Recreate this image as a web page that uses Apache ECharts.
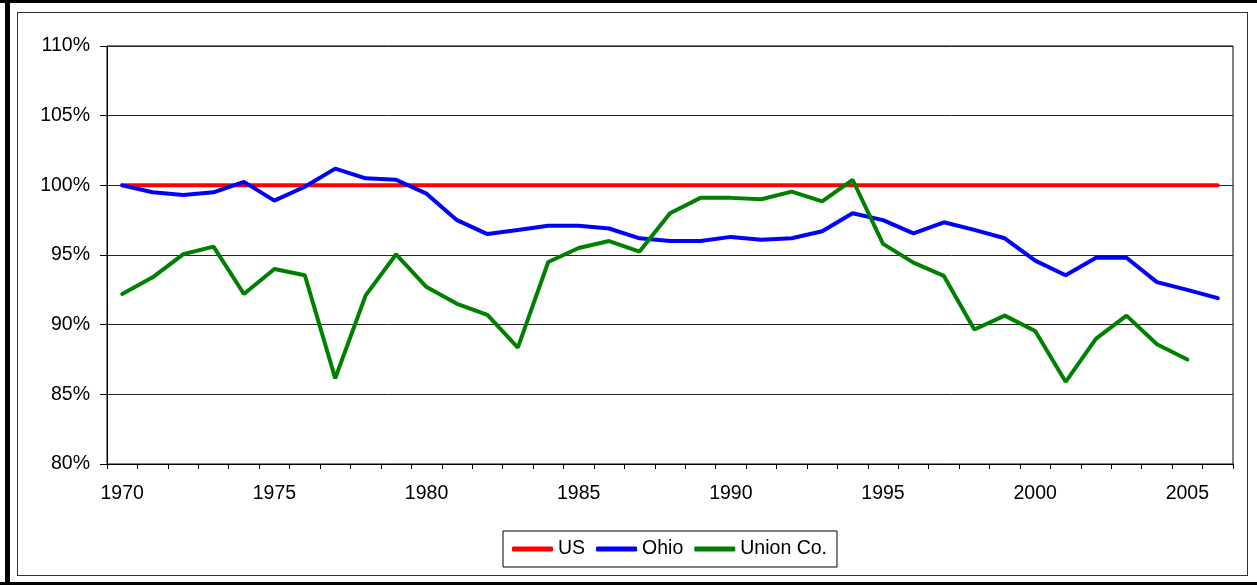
<!DOCTYPE html>
<html>
<head>
<meta charset="utf-8">
<script src="https://cdn.jsdelivr.net/npm/echarts@6/dist/echarts.min.js"></script>
<style>
  body { margin: 0; background: #fff; }
  #page { position: relative; width: 1257px; height: 585px; overflow: hidden; }
  .bar { position: absolute; background: #000; }
  #inner { position: absolute; left: 17px; top: 12px; width: 1229px; height: 562px; border: 1px solid #333; }
  #cv { position: absolute; left: 0; top: 0; width: 1257px; height: 585px; }
</style>
</head>
<body>
<div id="page">
  <div class="bar" style="left:0;top:0;width:1257px;height:3px"></div>
  <div class="bar" style="left:5px;top:0;width:5px;height:585px"></div>
  <div class="bar" style="left:0;top:582px;width:1257px;height:3px"></div>
  <div id="inner"></div>
  <div id="cv"></div>
</div>
<script>
var years = [];
for (var y = 1970; y <= 2006; y++) years.push(String(y));

var usData = [100,100,100,100,100,100,100,100,100,100,
              100,100,100,100,100,100,100,100,100,100,
              100,100,100,100,100,100,100,100,100,100,
              100,100,100,100,100,100,100];

var ohioData = [100.0,99.5,99.3,99.5,100.25,98.9,99.9,101.2,100.5,100.4,
                99.4,97.5,96.5,96.8,97.1,97.1,96.9,96.2,96.0,96.0,
                96.3,96.1,96.2,96.7,98.0,97.5,96.55,97.35,96.8,96.2,
                94.6,93.55,94.8,94.8,93.05,92.5,91.9];

var unionData = [92.2,93.4,95.05,95.6,92.2,94.0,93.55,86.15,92.1,95.05,
                 92.7,91.5,90.7,88.35,94.5,95.5,96.0,95.25,98.0,99.1,
                 99.1,99.0,99.55,98.85,100.4,95.8,94.45,93.5,89.65,90.65,
                 89.55,85.9,89.0,90.65,88.6,87.5,null];

var myChart = echarts.init(document.getElementById('cv'), null, {renderer: 'canvas'});

var font = 'Liberation Sans, Arial, sans-serif';

var option = {
    animation: false,
    backgroundColor: 'transparent',
    legend: {
        data: ['US', 'Ohio', 'Union Co.'],
        left: 503,
        top: 531,
        padding: [8, 10, 8, 9],
        borderColor: '#000',
        borderWidth: 1,
        itemWidth: 41,
        itemHeight: 5,
        itemGap: 11,
        icon: 'roundRect',
        textStyle: { fontFamily: font, fontSize: 19.5, color: '#000' }
    },
    grid: {
        left: 107,
        right: 24,
        top: 46,
        bottom: 121,
        show: true,
        borderColor: '#000',
        borderWidth: 1
    },
    xAxis: {
        type: 'category',
        boundaryGap: true,
        data: years,
        axisLine: { lineStyle: { color: '#000', width: 1 } },
        axisTick: { show: true, interval: 0, length: 5, lineStyle: { color: '#000' } },
        axisLabel: {
            interval: 4,
            margin: 20,
            fontFamily: font,
            fontSize: 19.5,
            color: '#000'
        },
        splitLine: { show: false }
    },
    yAxis: {
        type: 'value',
        min: 80,
        max: 110,
        interval: 5,
        axisLine: { show: true, lineStyle: { color: '#000', width: 1 } },
        axisTick: { show: true, length: 7, lineStyle: { color: '#000' } },
        axisLabel: {
            formatter: '{value}%',
            margin: 17,
            fontFamily: font,
            fontSize: 19.5,
            color: '#000'
        },
        splitLine: { show: true, lineStyle: { color: '#222', width: 1 } }
    },
    series: [
        {
            name: 'US',
            type: 'line',
            data: usData,
            symbol: 'none',
            color: '#ff0000',
            lineStyle: { width: 4, color: '#ff0000', cap: 'round' }
        },
        {
            name: 'Ohio',
            type: 'line',
            data: ohioData,
            symbol: 'none',
            color: '#0000ff',
            lineStyle: { width: 4, color: '#0000ff', cap: 'round' }
        },
        {
            name: 'Union Co.',
            type: 'line',
            data: unionData,
            symbol: 'none',
            color: '#008000',
            lineStyle: { width: 4, color: '#008000', cap: 'round' }
        }
    ]
};

myChart.setOption(option);
</script>
</body>
</html>
